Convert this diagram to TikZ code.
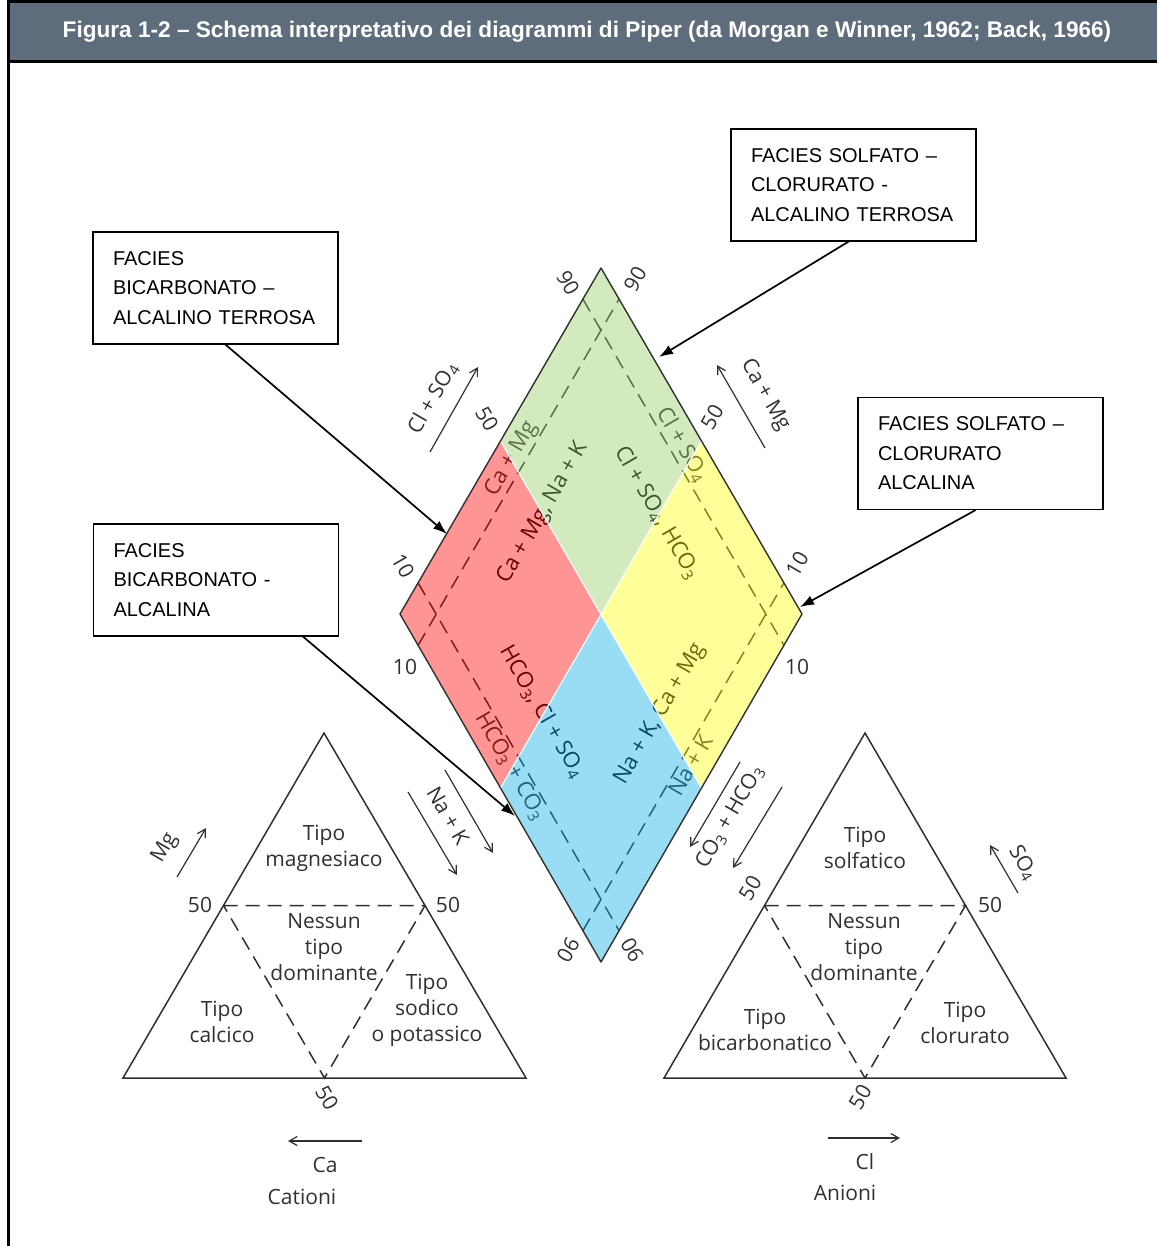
\documentclass[tikz,border=0pt]{standalone}
\usepackage{fontspec}
\setmainfont{Open Sans}
\newfontfamily\arialfont{Liberation Sans}
\usepackage{xcolor}
\definecolor{mheader}{HTML}{5F6C7C}
\definecolor{mline}{HTML}{303030}
\definecolor{mred}{HTML}{FF0000}
\definecolor{mgreen}{HTML}{96CA64}
\definecolor{myellow}{HTML}{FFFF0C}
\definecolor{mblue}{HTML}{0CAEE7}
\usepackage{tikz}
\usetikzlibrary{calc,arrows.meta}

\begin{document}
\begin{tikzpicture}[x=1pt, y=-1pt,
    faciesbox/.style={draw, line width=1.2pt, text width=205pt, inner xsep=20pt,
      minimum height=112pt, align=left, font=\arialfont\fontsize{20}{29.5}\selectfont},
    callout/.style={line width=1.7pt, -{Latex[length=14pt,width=10pt]}},
    lbl/.style={font=\fontsize{21}{26}\selectfont, align=center, inner sep=1pt, text=mline},
    dlbl/.style={font=\fontsize{22}{24}\selectfont, inner sep=1.5pt},
    scalearrow/.style={line width=1.2pt, mline, -{Straight Barb[length=8pt,width=9pt]}},
    dashline/.style={mline, line width=1.5pt, dash pattern=on 14pt off 8pt},
  ]
  \useasboundingbox (0,0) rectangle (1157,1246);

  % header
  \fill[mheader] (8,0) rectangle (1157,62);
  \node[text=white, font=\arialfont\bfseries\fontsize{22.6}{24}\selectfont] (title) at (587,32)
    {Figura 1-2 – Schema interpretativo dei diagrammi di Piper (da Morgan e Winner, 1962; Back, 1966)};
  \draw[line width=3pt] (8,1246) -- (8,1.5) -- (1157,1.5);
  \draw[line width=3pt] (8,62) -- (1157,62);

  % diamond
  \coordinate (T) at (601,268);
  \coordinate (L) at (400,614);
  \coordinate (R) at (802,614);
  \coordinate (B) at (601,962);
  \coordinate (C) at (601,615);
  \coordinate (TL) at ($(L)!.5!(T)$);
  \coordinate (TR) at ($(T)!.5!(R)$);
  \coordinate (BL) at ($(L)!.5!(B)$);
  \coordinate (BR) at ($(B)!.5!(R)$);

  \draw[dashline] ($(L)!.09!(B)$) -- ($(T)!.09!(R)$)
    node[dlbl, pos=.52, rotate=60, anchor=south] (camg) {Ca + Mg};
  \draw[dashline] ($(L)!.91!(B)$) -- ($(T)!.91!(R)$)
    node[dlbl, pos=.49, rotate=60, anchor=north] (nak) {Na + K};
  \draw[dashline] ($(L)!.09!(T)$) -- ($(B)!.09!(R)$)
    node[dlbl, pos=.51, rotate=-60, anchor=north] (hco) {HCO\textsubscript{3} + CO\textsubscript{3}};
  \draw[dashline] ($(L)!.91!(T)$) -- ($(B)!.91!(R)$)
    node[dlbl, pos=.44, rotate=-60, anchor=south] (clso) {Cl + SO\textsubscript{4}};

  \node[dlbl, rotate=60] (green1) at (543,513) {Ca + Mg, Na + K};
  \node[dlbl, rotate=-60] (green2) at (657,513) {Cl + SO\textsubscript{4}, HCO\textsubscript{3}};
  \node[dlbl, rotate=-60] (red1) at (542,712) {HCO\textsubscript{3}, Cl + SO\textsubscript{4}};
  \node[dlbl, rotate=60] (blue1) at (660,714) {Na + K, Ca + Mg};

  \fill[mgreen, opacity=.42] (T) -- (TR) -- (C) -- (TL) -- cycle;
  \fill[mred, opacity=.42] (TL) -- (C) -- (BL) -- (L) -- cycle;
  \fill[myellow, opacity=.42] (TR) -- (R) -- (BR) -- (C) -- cycle;
  \fill[mblue, opacity=.42] (C) -- (BR) -- (B) -- (BL) -- cycle;
  \draw[white, line width=1.2pt] (TL) -- (BR) (TR) -- (BL);
  \draw[mline, line width=1.4pt, line join=round] (T) -- (R) -- (B) -- (L) -- cycle;

  % diamond scales
  \node[lbl, rotate=-60] (n90a) at (568,283) {90};
  \node[lbl, rotate=60] (n90b) at (635,279) {90};
  \node[lbl, rotate=-60] (n50a) at (487,419) {50};
  \node[lbl, rotate=60] (n50b) at (712,417) {50};
  \node[lbl, rotate=-60] (n10a) at (403,566) {10};
  \node[lbl, rotate=60] (n10b) at (797,564) {10};
  \node[lbl] (n10c) at (405,667) {10};
  \node[lbl] (n10d) at (797,667) {10};
  \node[lbl, rotate=-120] (n90c) at (568,950) {90};
  \node[lbl, rotate=120] (n90d) at (632,950) {90};

  \node[lbl, rotate=60] (clso4) at (433,398) {Cl + SO\textsubscript{4}};
  \draw[scalearrow] (430,452) -- (478,367);
  \node[lbl, rotate=-60] (camg2) at (765,395) {Ca + Mg};
  \draw[scalearrow] (765,448) -- (717,365);
  \node[lbl, rotate=-60] (nak2) at (448,816) {Na + K};
  \draw[scalearrow] (408,792) -- (457,875);
  \draw[scalearrow] (445,770) -- (493,853);
  \node[lbl, rotate=60] (cohco) at (730,817) {CO\textsubscript{3} + HCO\textsubscript{3}};
  \draw[scalearrow] (740,762) -- (690,847);
  \draw[scalearrow] (782,787) -- (733,868);

  % cations triangle
  \coordinate (A1) at (324,733);
  \coordinate (L1) at (123,1078);
  \coordinate (R1) at (526,1078);
  \draw[mline, line width=1.5pt] (A1) -- (R1) -- (L1) -- cycle;
  \draw[dashline] ($(A1)!.5!(L1)$) -- ($(A1)!.5!(R1)$) -- ($(L1)!.5!(R1)$) -- cycle;
  \node[lbl] (c50a) at (200,905) {50};
  \node[lbl] (c50b) at (448,905) {50};
  \node[lbl, rotate=-60] (c50c) at (327,1098) {50};
  \node[lbl] (tmg) at (324,848) {Tipo\\magnesiaco};
  \node[lbl] (tnone1) at (324,947) {Nessun\\tipo\\dominante};
  \node[lbl] (tca) at (222,1022) {Tipo\\calcico};
  \node[lbl] (tna) at (427,1010) {Tipo\\sodico\\o potassico};
  \node[lbl, rotate=60] (mg) at (165,848) {Mg};
  \draw[scalearrow] (177,877) -- (206,828);
  \draw[scalearrow] (362,1141) -- (288,1141);
  \node[lbl] (ca) at (325,1165) {Ca};
  \node[lbl] (cationi) at (302,1197) {Cationi};

  % anions triangle
  \coordinate (A2) at (865,733);
  \coordinate (L2) at (664,1078);
  \coordinate (R2) at (1066,1078);
  \draw[mline, line width=1.5pt] (A2) -- (R2) -- (L2) -- cycle;
  \draw[dashline] ($(A2)!.5!(L2)$) -- ($(A2)!.5!(R2)$) -- ($(L2)!.5!(R2)$) -- cycle;
  \node[lbl, rotate=60] (a50a) at (750,888) {50};
  \node[lbl] (a50b) at (990,905) {50};
  \node[lbl, rotate=60] (a50c) at (860,1097) {50};
  \node[lbl] (tso) at (865,848) {Tipo\\solfatico};
  \node[lbl] (tnone2) at (864,947) {Nessun\\tipo\\dominante};
  \node[lbl] (tbic) at (765,1030) {Tipo\\bicarbonatico};
  \node[lbl] (tcl) at (965,1023) {Tipo\\clorurato};
  \node[lbl, rotate=-60] (so4) at (1023,863) {SO\textsubscript{4}};
  \draw[scalearrow] (1018,893) -- (990,845);
  \draw[scalearrow] (828,1138) -- (900,1138);
  \node[lbl] (cl) at (865,1162) {Cl};
  \node[lbl] (anioni) at (845,1193) {Anioni};

  % facies boxes
  \node[faciesbox] (b1) at (215.5,288) {FACIES\\BICARBONATO –\\ALCALINO~TERROSA};
  \node[faciesbox] (b2) at (853.5,185) {FACIES SOLFATO –\\CLORURATO -\\ALCALINO~TERROSA};
  \node[faciesbox] (b3) at (980.5,453.5) {FACIES SOLFATO –\\CLORURATO\\ALCALINA};
  \node[faciesbox] (b4) at (216,580) {FACIES\\BICARBONATO -\\ALCALINA};

  \coordinate (tip1) at (447,534);
  \coordinate (tip2) at (659,357);
  \coordinate (tip3) at (800,607);
  \coordinate (tip4) at (515,816);
  \draw[callout] ([xshift=10pt]b1.south) -- (tip1);
  \draw[callout] ([xshift=-5pt]b2.south) -- (tip2);
  \draw[callout] ([xshift=-5pt]b3.south) -- (tip3);
  \draw[callout] ([xshift=87pt]b4.south) -- (tip4);

\end{tikzpicture}
\end{document}
